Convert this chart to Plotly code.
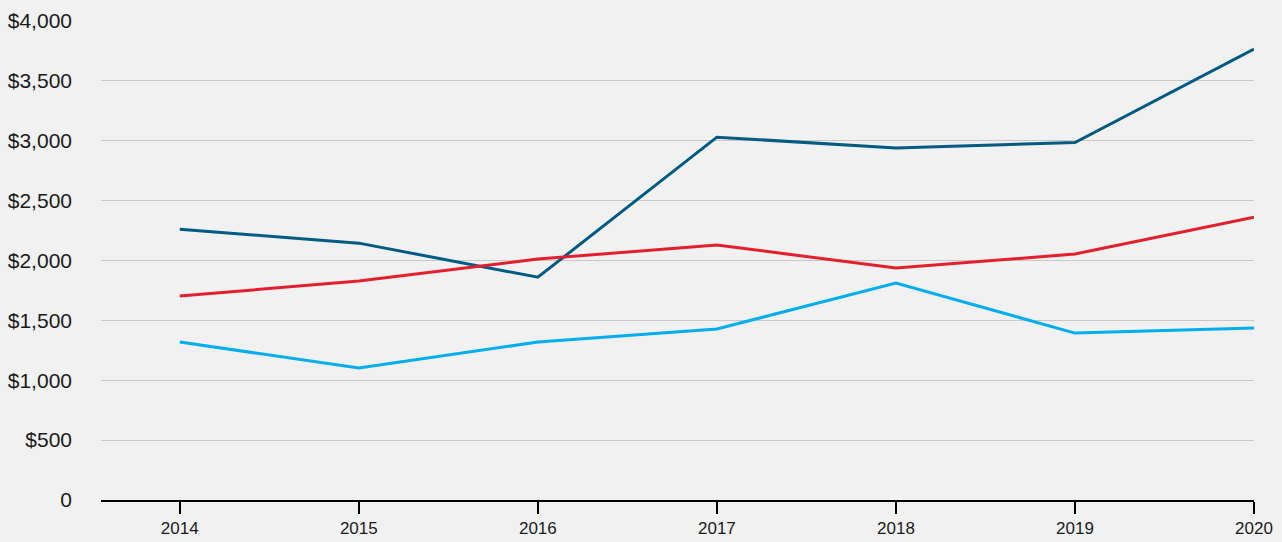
import plotly.graph_objects as go

years = [2014, 2015, 2016, 2017, 2018, 2019, 2020]
year_labels = ["2014", "2015", "2016", "2017", "2018", "2019", "2020"]
series_dark = [2260, 2145, 1860, 3030, 2940, 2985, 3765]
series_red = [1703, 1828, 2012, 2129, 1937, 2054, 2362]
series_light = [1319, 1102, 1319, 1428, 1812, 1394, 1436]
y_ticks = [0, 500, 1000, 1500, 2000, 2500, 3000, 3500, 4000]
y_tick_labels = ["0", "$500", "$1,000", "$1,500", "$2,000", "$2,500", "$3,000", "$3,500", "$4,000"]

fig = go.Figure()
for vals, color in [(series_dark, "#005b82"), (series_red, "#e31e2d"), (series_light, "#00aeef")]:
    fig.add_trace(go.Scatter(x=years, y=vals, mode="lines",
                             line=dict(color=color, width=3), showlegend=False,
                             cliponaxis=False))

fig.update_layout(
    width=1282, height=542,
    margin=dict(l=101, r=28, t=21, b=42),
    paper_bgcolor="#f1f1f1", plot_bgcolor="#f1f1f1",
    font=dict(family="Liberation Sans, Arial, sans-serif", color="#1a1a1a"),
)
fig.update_xaxes(
    range=[2013.56, 2020], tickvals=years, ticktext=year_labels,
    showgrid=False, zeroline=False, showline=True, linecolor="#000000", linewidth=2,
    ticks="outside", ticklen=12, tickwidth=2, tickcolor="#000000",
    tickfont=dict(size=17), fixedrange=True, automargin=False,
)
fig.update_yaxes(
    range=[0, 4000], tickvals=y_ticks, ticktext=y_tick_labels,
    showgrid=True, gridcolor="#c8c8c8", gridwidth=1, zeroline=False, showline=False,
    ticks="", ticklabelstandoff=28, tickfont=dict(size=21), fixedrange=True,
    automargin=False,
)

fig.write_html(
    "out.html",
    config={"displayModeBar": False},
    post_script="document.body.style.margin='0';document.body.style.overflow='hidden';document.documentElement.style.overflow='hidden';",
)
